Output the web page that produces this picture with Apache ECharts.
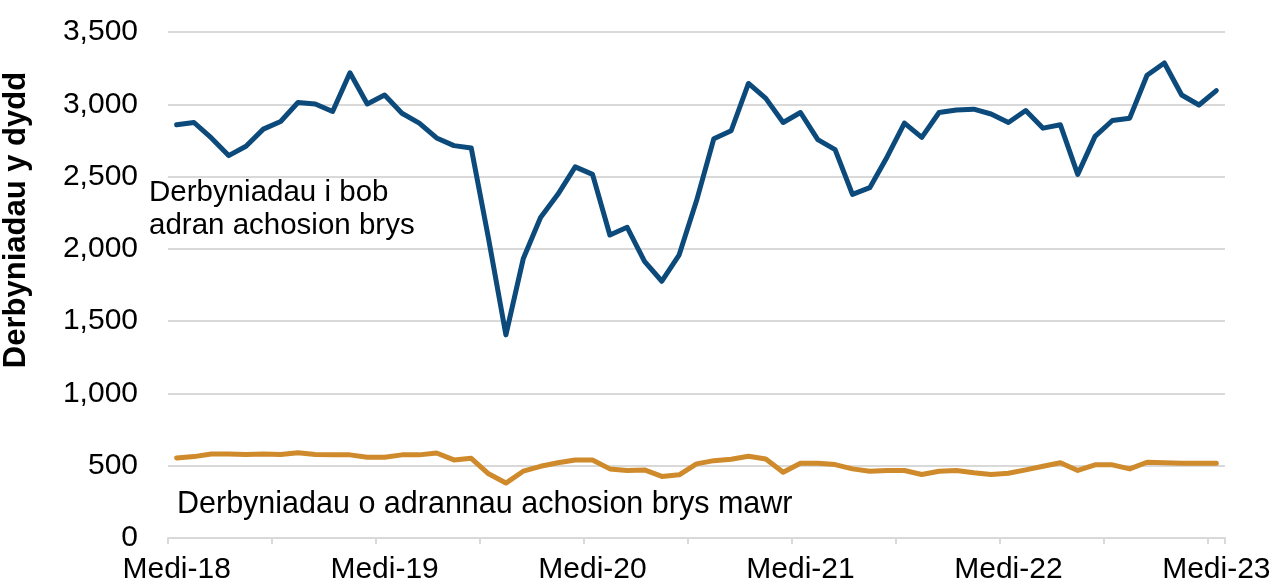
<!DOCTYPE html>
<html>
<head>
<meta charset="utf-8">
<script src="https://cdn.jsdelivr.net/npm/echarts@6/dist/echarts.min.js"></script>
<style>
    html, body { margin: 0; padding: 0; background: #fff; }
    #chart { width: 1279px; height: 585px; }
</style>
</head>
<body>
<div id="chart"></div>
<script>
// ------------------------------------------------------------------------
// Data (Medi 2018 -> Medi 2023, monthly)
// ------------------------------------------------------------------------
var monthNames = ['Medi', 'Hyd', 'Tach', 'Rhag', 'Ion', 'Chwef', 'Maw', 'Ebr', 'Mai', 'Meh', 'Gorff', 'Awst'];
var startYear = 18;
var monthCount = 61;

var allDepartments = [
    2858, 2874, 2767, 2645, 2710, 2828, 2881, 3012, 3002, 2950,
    3218, 3002, 3064, 2938, 2870, 2767, 2714, 2698, 2070, 1405,
    1931, 2217, 2377, 2567, 2515, 2096, 2149, 1913, 1776, 1959,
    2332, 2762, 2817, 3144, 3041, 2874, 2943, 2755, 2686, 2377,
    2423, 2636, 2870, 2771, 2943, 2961, 2966, 2933, 2874, 2957,
    2835, 2858, 2515, 2778, 2888, 2904, 3201, 3286, 3064, 2995,
    3094
];

var majorDepartments = [
    554, 563, 581, 581, 577, 581, 577, 590, 577, 575,
    575, 558, 558, 575, 575, 588, 540, 551, 444, 380,
    462, 496, 520, 540, 540, 478, 467, 471, 426, 437,
    513, 535, 545, 565, 547, 455, 517, 517, 508, 478,
    462, 467, 467, 439, 462, 467, 451, 439, 448, 471,
    496, 520, 467, 506, 506, 478, 524, 520, 517, 517,
    517
];

var yTicks = [0, 500, 1000, 1500, 2000, 2500, 3000, 3500];

// category labels e.g. "Medi-18"
var categories = [];
for (var i = 0; i < monthCount; i++) {
    var yr = startYear + Math.floor((i + 8) / 12);
    categories.push(monthNames[i % 12] + '-' + yr);
}

// ------------------------------------------------------------------------
// Chart
// ------------------------------------------------------------------------
var FONT = '"Liberation Sans", Arial, sans-serif';
var chart = echarts.init(document.getElementById('chart'), null, { renderer: 'canvas' });

var option = {
    animation: false,
    grid: { left: 168, right: 54, top: 32, bottom: 47, containLabel: false },
    xAxis: {
        type: 'category',
        data: categories,
        boundaryGap: true,
        axisLine: { show: true, lineStyle: { color: '#d9d9d9', width: 2 } },
        axisTick: { show: true, interval: 5, length: 6, lineStyle: { color: '#d9d9d9', width: 2 } },
        axisLabel: {
            interval: 11,
            margin: 17,
            color: '#000',
            fontSize: 30,
            fontFamily: FONT
        },
        splitLine: { show: false }
    },
    yAxis: {
        type: 'value',
        min: yTicks[0],
        max: yTicks[yTicks.length - 1],
        interval: 500,
        axisLine: { show: false },
        axisTick: { show: false },
        axisLabel: {
            margin: 30,
            color: '#000',
            fontSize: 30,
            fontFamily: FONT,
            formatter: function (v) { return v.toLocaleString('en-US'); }
        },
        splitLine: { lineStyle: { color: '#d9d9d9', width: 2 } }
    },
    series: [
        {
            name: 'Derbyniadau i bob adran achosion brys',
            type: 'line',
            data: allDepartments,
            symbol: 'none',
            lineStyle: { color: '#0b4a7b', width: 5, join: 'round', cap: 'round' },
            itemStyle: { color: '#0b4a7b' },
            z: 3
        },
        {
            name: 'Derbyniadau o adrannau achosion brys mawr',
            type: 'line',
            data: majorDepartments,
            symbol: 'none',
            lineStyle: { color: '#cf8a2c', width: 5, join: 'round', cap: 'round' },
            itemStyle: { color: '#cf8a2c' },
            z: 2
        }
    ],
    graphic: [
        {
            // y axis title
            type: 'text', x: 16, y: 220, rotation: Math.PI / 2,
            style: {
                text: 'Derbyniadau y dydd',
                fill: '#000', fontSize: 31, fontWeight: 'bold', fontFamily: FONT,
                align: 'center', verticalAlign: 'middle'
            }
        },
        {
            type: 'text', x: 149, y: 176,
            style: {
                text: 'Derbyniadau i bob\nadran achosion brys',
                fill: '#000', fontSize: 29.5, fontFamily: FONT, lineHeight: 33,
                verticalAlign: 'top'
            }
        },
        {
            type: 'text', x: 177, y: 489,
            style: {
                text: 'Derbyniadau o adrannau achosion brys mawr',
                fill: '#000', fontSize: 30.5, fontFamily: FONT, lineHeight: 31,
                verticalAlign: 'top'
            }
        }
    ]
};

chart.setOption(option);
window.addEventListener('resize', function () { chart.resize(); });
</script>
</body>
</html>
